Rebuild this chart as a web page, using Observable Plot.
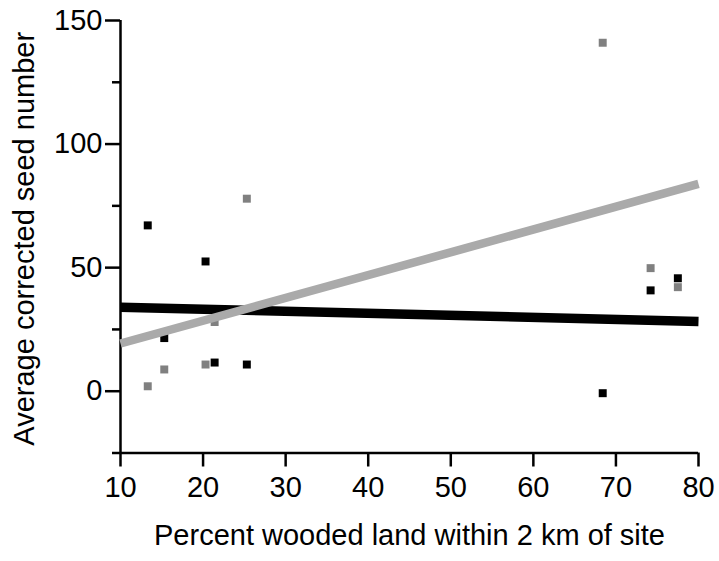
<!DOCTYPE html>
<html>
<head>
<meta charset="utf-8">
<script src="https://cdn.jsdelivr.net/npm/d3@7"></script>
<script src="https://cdn.jsdelivr.net/npm/@observablehq/plot@0.6"></script>
<style>
  html, body { margin: 0; padding: 0; background: #fff; }
  svg { display: block; }
</style>
</head>
<body>
<div id="chart"></div>
<script>
// Percent wooded land within 2 km of site (x) for each site
const woodedPct = [13.3, 15.3, 20.3, 21.4, 25.3, 68.4, 74.2, 77.5];
// Series A (black squares)
const seedsBlack = [67.1, 21.5, 52.5, 11.6, 10.8, -0.8, 40.8, 45.7];
// Series B (gray squares)
const seedsGray = [2.0, 8.8, 10.8, 28.0, 77.9, 141.0, 49.8, 42.1];
// Fitted regression lines (endpoints at x = 10 and x = 80)
const fitX = [10, 80];
const fitBlack = [34.0, 28.2];
const fitGray = [19.3, 83.9];
// Axis ticks
const xTicks = [10, 20, 30, 40, 50, 60, 70, 80];
const yMajor = [0, 50, 100, 150];
const yMinor = [-25, 25, 75, 125];

const black = woodedPct.map((x, i) => ({x, y: seedsBlack[i]}));
const gray = woodedPct.map((x, i) => ({x, y: seedsGray[i]}));
const lineBlack = fitX.map((x, i) => ({x, y: fitBlack[i]}));
const lineGray = fitX.map((x, i) => ({x, y: fitGray[i]}));

const chart = Plot.plot({
  width: 719,
  height: 561,
  marginLeft: 120,
  marginRight: 21,
  marginTop: 20,
  marginBottom: 108.5,
  style: {fontFamily: "'Liberation Sans', Arial, sans-serif", color: "#000", background: "#fff"},
  x: {domain: [10, 80]},
  y: {domain: [-25, 150]},
  marks: [
    Plot.axisX({ticks: xTicks, tickSize: 14, tickPadding: 9.5, fontSize: 29, strokeWidth: 2.5, label: null}),
    Plot.axisY({ticks: yMajor, tickSize: 15, tickPadding: 3, fontSize: 29, strokeWidth: 2.5, label: null}),
    Plot.axisY({ticks: yMinor, tickSize: 8, tickFormat: () => "", strokeWidth: 2.5, label: null}),
    Plot.ruleX([10], {strokeWidth: 2.5}),
    Plot.ruleY([-25], {strokeWidth: 2.5}),
    Plot.dot(black, {x: "x", y: "y", symbol: "square", r: 4.5, fill: "#000", stroke: "none"}),
    Plot.dot(gray, {x: "x", y: "y", symbol: "square", r: 4.5, fill: "#808080", stroke: "none"}),
    Plot.line(lineBlack, {x: "x", y: "y", stroke: "#000", strokeWidth: 9.5, strokeLinecap: "butt"}),
    Plot.line(lineGray, {x: "x", y: "y", stroke: "#aaaaaa", strokeWidth: 8.5, strokeLinecap: "butt"}),
    Plot.text(["Percent wooded land within 2 km of site"], {frameAnchor: "bottom", dy: 82.5, fontSize: 29, fill: "#000", textAnchor: "middle", lineAnchor: "middle"}),
    Plot.text(["Average corrected seed number"], {frameAnchor: "left", dx: -96, dy: 2, rotate: -90, fontSize: 29, fill: "#000", textAnchor: "middle", lineAnchor: "middle"})
  ]
});
document.getElementById("chart").appendChild(chart);
</script>
</body>
</html>
